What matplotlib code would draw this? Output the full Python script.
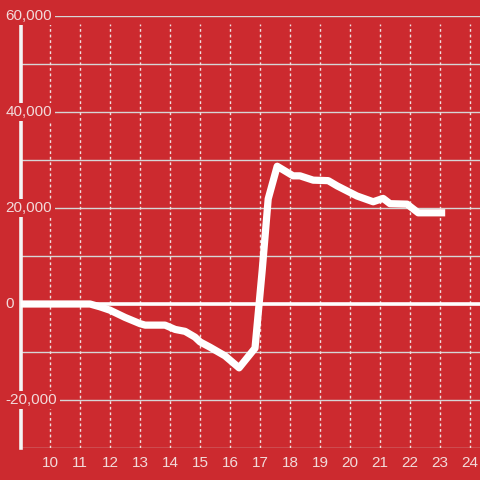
import matplotlib
matplotlib.use("Agg")
import matplotlib.pyplot as plt

# values
hours = [9.0, 11.33, 11.67, 12.0, 12.5, 13.0, 13.17, 13.83, 14.17, 14.5, 14.83,
         15.0, 15.33, 15.83, 16.3, 16.83, 17.07, 17.27, 17.57, 18.1, 18.33,
         18.77, 19.27, 19.57, 20.23, 20.77, 21.1, 21.33, 21.9, 22.27, 23.17]
values = [0, 0, -600, -1300, -2800, -4100, -4400, -4400, -5300, -5700, -6900,
          -7900, -9000, -10800, -13300, -9200, 7000, 21900, 28700, 26700, 26700,
          25800, 25700, 24600, 22500, 21300, 22000, 20900, 20800, 19000, 19000]
x_ticks = list(range(10, 25))
y_labels = [60000, 40000, 20000, 0, -20000]
y_grid = list(range(-30000, 60001, 10000))

bg = "#cc2a2f"
txt = "#f2dada"

plt.rcParams['font.family'] = ['Liberation Sans', 'DejaVu Sans']

fig = plt.figure(figsize=(4.8, 4.8), dpi=100, facecolor=bg)
ax = fig.add_axes([21 / 480, 32 / 480, 459 / 480, 432 / 480])
ax.set_facecolor(bg)
ax.set_xlim(9.03, 24.33)
ax.set_ylim(-30000, 60000)

for v in y_grid:
    ax.axhline(v, color="#d6d6d6", lw=1, zorder=1)
for t in x_ticks:
    ax.axvline(t, ymax=(58300 + 30000) / 90000, color="#f0e0e0", lw=1,
               ls=(0, (2, 2)), zorder=1)
ax.axhline(0, color="white", lw=2.6, zorder=2)

ax.plot(hours, values, color="white", lw=5.2, solid_joinstyle="round",
        solid_capstyle="butt", zorder=4)

for s in ["top", "right", "bottom"]:
    ax.spines[s].set_visible(False)
ax.spines["left"].set_color("#f4f4f4")
ax.spines["left"].set_linewidth(2.6)
ax.spines["left"].set_bounds(-30000, 58300)
ax.spines["left"].set_zorder(3)

ax.set_yticks([])
ax.set_xticks(x_ticks)
ax.tick_params(axis="x", length=0, pad=6, labelsize=11, labelcolor=txt)

for v in y_labels:
    ax.text(-16 / 480, v, f"{v:,}", transform=ax.get_yaxis_transform(),
            ha="left", va="center", fontsize=11, color=txt, zorder=5,
            bbox=dict(boxstyle="square,pad=0.15", fc=bg, ec="none"))

fig.savefig("out.png", dpi=100, facecolor=bg)
